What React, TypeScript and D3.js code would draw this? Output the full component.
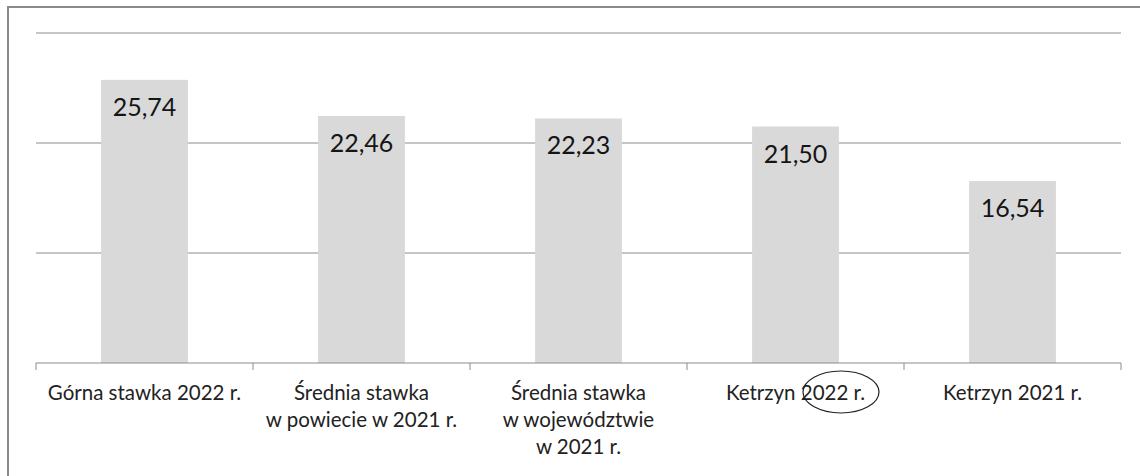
import React from "react";
import * as d3 from "d3";

const categories: string[][] = [
  ["Górna stawka 2022 r."],
  ["Średnia stawka", "w powiecie w 2021 r."],
  ["Średnia stawka", "w województwie", "w 2021 r."],
  ["Ketrzyn 2022 r."],
  ["Ketrzyn 2021 r."],
];
const values: number[] = [25.74, 22.46, 22.23, 21.5, 16.54];
const gridValues: number[] = [10, 20, 30];

const fmt = (v: number) => v.toFixed(2).replace(".", ",");

function App() {
  const width = 1140;
  const height = 476;
  const left = 36;
  const right = 1121;
  const baseY = 363;

  const ids = categories.map((_, i) => String(i));
  const x = d3.scaleBand().domain(ids).range([left, right]).paddingInner(0).paddingOuter(0);
  const y = d3.scaleLinear().domain([0, 30]).range([baseY, 33]);
  const barW = x.bandwidth() * 0.4;
  const font = "Lato, 'Open Sans', sans-serif";

  return (
    <svg
      width={width}
      height={height}
      style={{ position: "absolute", left: 0, top: 0, background: "#fff" }}
    >
      {/* outer frame */}
      <rect x={8} y={7} width={1160} height={500} fill="none" stroke="#8a8a8a" strokeWidth={2} />

      {gridValues.map((g) => (
        <line key={g} x1={left} x2={right} y1={y(g)} y2={y(g)} stroke="#8c8c8c" strokeWidth={1} />
      ))}

      {values.map((v, i) => {
        const cx = (x(String(i)) as number) + x.bandwidth() / 2;
        return (
          <g key={i}>
            <rect x={cx - barW / 2} y={y(v)} width={barW} height={baseY - y(v)} fill="#d9d9d9" />
            <text
              x={cx}
              y={y(v) + 36}
              textAnchor="middle"
              fontFamily={font}
              fontSize={25}
              fill="#151515"
            >
              {fmt(v)}
            </text>
          </g>
        );
      })}

      {/* axis */}
      <line x1={left} x2={right} y1={baseY} y2={baseY} stroke="#8c8c8c" strokeWidth={1} />
      {ids.concat(["end"]).map((id, i) => {
        const tx = i < ids.length ? (x(id) as number) : right;
        return <line key={id} x1={tx} x2={tx} y1={baseY} y2={baseY + 7} stroke="#8c8c8c" />;
      })}

      {categories.map((lines, i) => {
        const cx = (x(String(i)) as number) + x.bandwidth() / 2;
        return (
          <text key={i} textAnchor="middle" fontFamily={font} fontSize={20.5} fill="#222">
            {lines.map((l, j) => (
              <tspan key={j} x={cx} y={400 + j * 27}>
                {l}
              </tspan>
            ))}
          </text>
        );
      })}

      {/* hand-drawn circle around the year */}
      <ellipse cx={841} cy={392} rx={38} ry={21} fill="none" stroke="#222" strokeWidth={1.2} />
    </svg>
  );
}

export default App;
